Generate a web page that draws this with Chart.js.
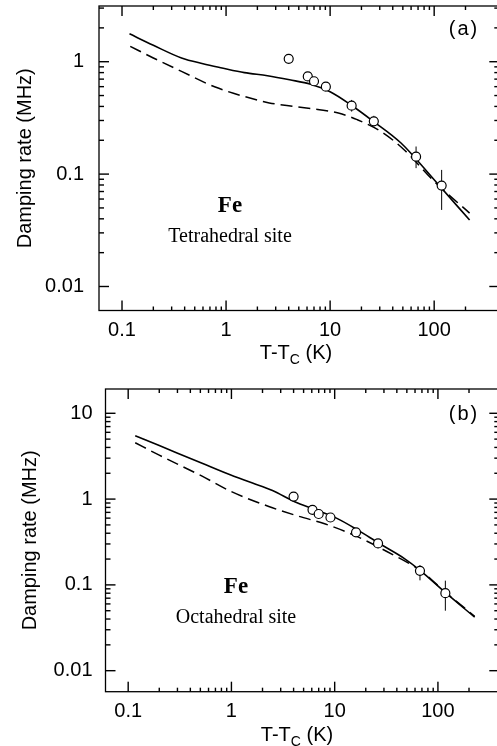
<!DOCTYPE html>
<html>
<head>
<meta charset="utf-8">
<title>Fe damping rate</title>
<script src="https://cdn.jsdelivr.net/npm/chart.js@4.4.1/dist/chart.umd.min.js"></script>
<style>
    html, body { margin: 0; padding: 0; background: #fff; }
    #wrap { position: relative; width: 497px; height: 746px; overflow: hidden;
            font-family: "Liberation Sans", Arial, sans-serif; color: #000; }
    .panel { position: absolute; left: 0; }
    .note { position: absolute; white-space: nowrap; line-height: 1;
            transform: translate(-50%, -50%); }
    .fe { font-family: "Liberation Serif", "Times New Roman", serif; font-weight: bold; font-size: 23px; }
    .site { font-family: "Liberation Serif", "Times New Roman", serif; font-size: 20px; }
    .tag { font-size: 20px; letter-spacing: 2px; }
    .xtitle { font-size: 20px; }
    .xtitle .sub { font-size: 14px; position: relative; top: 5px; }
</style>
</head>
<body>
<div id="wrap">
    <canvas id="chartA" class="panel" width="505" height="370" style="top:0"></canvas>
    <canvas id="chartB" class="panel" width="505" height="376" style="top:370px"></canvas>

    <div class="note tag" style="left:464px; top:28px">(a)</div>
    <div class="note fe" style="left:230px; top:204px">Fe</div>
    <div class="note site" style="left:230px; top:235px">Tetrahedral site</div>
    <div class="note xtitle" style="left:296px; top:352px">T-T<span class="sub">C</span> (K)</div>

    <div class="note tag" style="left:464px; top:413px">(b)</div>
    <div class="note fe" style="left:236px; top:585px">Fe</div>
    <div class="note site" style="left:236px; top:616px">Octahedral site</div>
    <div class="note xtitle" style="left:297px; top:734px">T-T<span class="sub">C</span> (K)</div>
</div>

<script>
// ---- data ----
const xTicks = [0.1, 1, 10, 100];
const yTicksA = [0.01, 0.1, 1];
const yTicksB = [0.01, 0.1, 1, 10];
const xMinorEnd = 200; // last minor tick drawn on the T axis

// measured points (same temperatures in both panels)
const measT = [4.0, 6.1, 7.0, 9.1, 16.1, 26.3, 67, 118];
const measRateA = [1.06, 0.74, 0.67, 0.60, 0.406, 0.295, 0.143, 0.079];
const measRateB = [1.07, 0.75, 0.67, 0.61, 0.41, 0.304, 0.146, 0.080];

// error bars
const errT = [16.1, 26.3, 67, 118];
const errLoA = [0.36, 0.266, 0.113, 0.048];
const errHiA = [0.457, 0.33, 0.176, 0.109];
const errLoB = [0.367, 0.268, 0.113, 0.050];
const errHiB = [0.447, 0.335, 0.17, 0.112];

// (a) tetrahedral site: full theory (solid) and dipolar-only (dashed)
const solidTA = [0.118, 0.2, 0.373, 0.6, 0.915, 1.5, 2.5, 4.08, 6.5, 10, 16, 26, 48, 100, 219];
const solidA = [1.77, 1.4, 1.08, 0.96, 0.88, 0.80, 0.75, 0.69, 0.63, 0.54, 0.41, 0.295, 0.189, 0.089, 0.039];
const dashedTA = [0.12, 0.2, 0.373, 0.787, 1.5, 2.6, 4.5, 7.9, 12, 18.2, 30.7, 51.7, 100, 219];
const dashedA = [1.37, 1.08, 0.82, 0.595, 0.49, 0.43, 0.40, 0.374, 0.349, 0.305, 0.24, 0.164, 0.086, 0.045];

// (b) octahedral site
const solidTB = [0.117, 0.2, 0.52, 1.0, 1.6, 2.5, 4.1, 6.3, 10.4, 16.5, 27, 47, 68, 120, 227];
const solidB = [5.48, 4.2, 2.61, 1.89, 1.54, 1.26, 0.93, 0.76, 0.60, 0.44, 0.304, 0.204, 0.146, 0.080, 0.042];
const dashedTB = [0.117, 0.2, 0.52, 1.0, 2.3, 4.5, 8, 16.4, 32, 68, 120, 227];
const dashedB = [4.54, 3.25, 1.85, 1.22, 0.82, 0.63, 0.515, 0.367, 0.245, 0.146, 0.081, 0.043];

const FONT = '"Liberation Sans", Arial, sans-serif';

function toXY(xs, ys) {
    return xs.map((x, i) => ({ x: x, y: ys[i] }));
}

// vertical segments separated by gaps
function errSegments(xs, lo, hi) {
    const out = [];
    xs.forEach((x, i) => {
        out.push({ x: x, y: lo[i] }, { x: x, y: hi[i] }, { x: x, y: null });
    });
    return out;
}

// major + minor log ticks, starting at the first labelled tick
function logTickList(majors, max) {
    const list = [];
    for (const m of majors) {
        list.push({ v: m, major: true });
        for (let k = 2; k <= 9; k++) {
            if (k * m <= max) list.push({ v: k * m, major: false });
        }
    }
    return list;
}

// box round the plot and inward ticks on all four sides
function frameTicks(yTicks) {
    return {
        id: 'frameTicks',
        afterDraw(chart) {
            const ctx = chart.ctx;
            const a = chart.chartArea;
            const xs = chart.scales.x;
            const ys = chart.scales.y;
            ctx.save();
            ctx.fillStyle = '#000';
            for (const t of logTickList(xTicks, xMinorEnd)) {
                const px = xs.getPixelForValue(t.v);
                const len = t.major ? 10 : 4;
                ctx.fillRect(px - 0.7, a.bottom - len, 1.4, len);
                ctx.fillRect(px - 0.7, a.top, 1.4, len);
            }
            for (const t of logTickList(yTicks, ys.max)) {
                const py = ys.getPixelForValue(t.v);
                const len = t.major ? 10 : 5;
                ctx.fillRect(a.left, py - 0.7, len, 1.4);
                ctx.fillRect(a.right - len, py - 0.7, len, 1.4);
            }
            ctx.strokeStyle = '#000';
            ctx.lineWidth = 1.3;
            ctx.strokeRect(a.left, a.top, a.right - a.left, a.bottom - a.top);
            ctx.restore();
        }
    };
}

function makePanel(id, p) {
    return new Chart(document.getElementById(id), {
        type: 'line',
        data: {
            datasets: [
                {
                    label: 'measured',
                    data: toXY(measT, p.meas),
                    showLine: false,
                    pointRadius: 4.5,
                    pointBackgroundColor: '#fff',
                    pointBorderColor: '#000',
                    pointBorderWidth: 1.2,
                    order: 0
                },
                {
                    label: 'error',
                    data: errSegments(errT, p.errLo, p.errHi),
                    borderColor: '#000',
                    borderWidth: 1,
                    pointRadius: 0,
                    spanGaps: false,
                    tension: 0,
                    order: 1
                },
                {
                    label: 'solid',
                    data: toXY(p.solidT, p.solid),
                    borderColor: '#000',
                    borderWidth: 1.6,
                    pointRadius: 0,
                    cubicInterpolationMode: 'monotone',
                    order: 2
                },
                {
                    label: 'dashed',
                    data: toXY(p.dashedT, p.dashed),
                    borderColor: '#000',
                    borderWidth: 1.5,
                    borderDash: [12, 6],
                    pointRadius: 0,
                    cubicInterpolationMode: 'monotone',
                    order: 3
                }
            ]
        },
        options: {
            responsive: false,
            animation: false,
            layout: { padding: p.padding },
            plugins: {
                legend: { display: false },
                tooltip: { enabled: false }
            },
            scales: {
                x: {
                    type: 'logarithmic',
                    min: p.xMin,
                    max: p.xMax,
                    afterFit: s => { s.height = p.xAxisH; s.paddingLeft = 0; s.paddingRight = 0; },
                    afterBuildTicks: s => { s.ticks = xTicks.map(v => ({ value: v })); },
                    grid: { display: false, drawTicks: false },
                    border: { display: false },
                    ticks: {
                        autoSkip: false, maxRotation: 0, padding: 8, color: '#000',
                        font: { family: FONT, size: 20 },
                        callback: v => String(v)
                    }
                },
                y: {
                    type: 'logarithmic',
                    min: p.yMin,
                    max: p.yMax,
                    afterFit: s => { s.width = p.yAxisW; s.paddingTop = 0; s.paddingBottom = 0; },
                    afterBuildTicks: s => { s.ticks = p.yTicks.map(v => ({ value: v })); },
                    grid: { display: false, drawTicks: false },
                    border: { display: false },
                    ticks: {
                        autoSkip: false, padding: p.yPad, color: '#000',
                        font: { family: FONT, size: 20 },
                        callback: v => String(v)
                    },
                    title: {
                        display: true,
                        text: 'Damping rate (MHz)',
                        color: '#000',
                        font: { family: FONT, size: 20 },
                        padding: { top: p.titlePad, bottom: 0 }
                    }
                }
            }
        },
        plugins: [frameTicks(p.yTicks)]
    });
}

makePanel('chartA', {
    meas: measRateA, errLo: errLoA, errHi: errHiA,
    solidT: solidTA, solid: solidA, dashedT: dashedTA, dashed: dashedA,
    yTicks: yTicksA,
    xMin: 0.0601, xMax: 422.6, yMin: 0.006115, yMax: 3.131,
    padding: { left: 0, right: 5.3, top: 6, bottom: 0 },
    xAxisH: 59.5, yAxisW: 99, yPad: 15, titlePad: 13
});

makePanel('chartB', {
    meas: measRateB, errLo: errLoB, errHi: errHiB,
    solidT: solidTB, solid: solidB, dashedT: dashedTB, dashed: dashedB,
    yTicks: yTicksB,
    xMin: 0.0603, xMax: 393, yMin: 0.00569, yMax: 19.19,
    padding: { left: 0, right: 3.3, top: 19, bottom: 0 },
    xAxisH: 54.3, yAxisW: 105.5, yPad: 13, titlePad: 18
});
</script>
</body>
</html>
